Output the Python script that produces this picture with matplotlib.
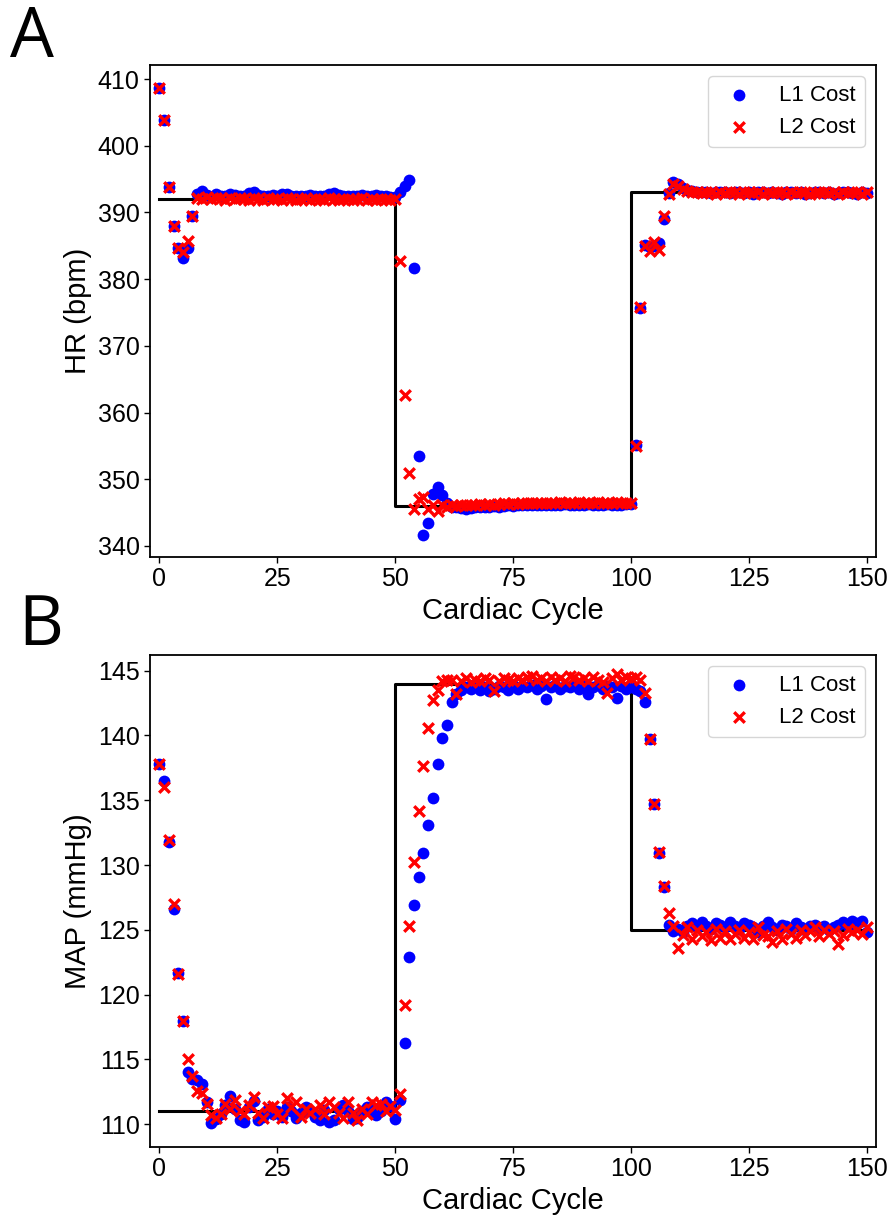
import matplotlib
matplotlib.use("Agg")
import matplotlib.pyplot as plt
import numpy as np

plt.rcParams['font.family'] = ['Liberation Sans', 'DejaVu Sans']

cycles = list(range(151))

hr_l1 = [408.7, 403.8, 393.8, 388.0, 384.7, 383.2, 384.6, 389.4, 392.8, 393.2,
         392.6, 392.3, 392.7, 392.5, 392.4, 392.8, 392.6, 392.4, 392.5, 392.9,
         393.0, 392.6, 392.4, 392.5, 392.6, 392.5, 392.8, 392.7, 392.5, 392.4,
         392.5, 392.4, 392.6, 392.5, 392.4, 392.5, 392.7, 392.9, 392.6, 392.4,
         392.5, 392.4, 392.5, 392.6, 392.5, 392.4, 392.6, 392.5, 392.4, 392.3,
         392.3, 393.0, 393.9, 394.8, 381.6, 353.5, 341.7, 343.5, 347.8, 348.9,
         347.6, 346.4, 345.9, 345.8, 345.7, 345.6, 345.7, 345.8, 345.8, 345.9,
         345.9, 346.0, 345.9, 346.0, 346.1, 346.0, 346.1, 346.1, 346.2, 346.1,
         346.2, 346.1, 346.2, 346.2, 346.1, 346.2, 346.3, 346.2, 346.1, 346.2,
         346.2, 346.3, 346.2, 346.1, 346.2, 346.3, 346.2, 346.1, 346.2, 346.3,
         346.3, 355.2, 375.7, 385.1, 384.8, 385.0, 385.4, 389.0, 392.9, 394.6,
         394.2, 393.7, 393.4, 393.2, 393.1, 393.0, 393.1, 392.9, 393.0, 393.1,
         393.0, 392.9, 393.0, 393.1, 392.9, 393.0, 392.8, 393.0, 393.1, 392.9,
         393.0, 392.9, 392.8, 393.0, 393.1, 392.9, 393.0, 392.8, 392.9, 393.0,
         393.1, 392.9, 393.0, 392.8, 392.9, 393.0, 393.1, 392.9, 392.8, 393.0,
         392.9]

hr_l2 = [408.7, 403.8, 393.8, 388.0, 384.7, 384.0, 385.7, 389.4, 392.2, 392.0,
         392.3, 392.0, 392.2, 392.1, 391.9, 392.1, 392.0, 392.2, 392.0, 391.9,
         392.1, 392.0, 391.9, 392.1, 392.0, 392.0, 391.9, 392.1, 392.0, 391.9,
         392.0, 392.1, 391.9, 392.0, 392.0, 391.9, 392.1, 392.0, 391.9, 392.0,
         392.0, 391.9, 392.0, 392.1, 391.9, 392.0, 391.9, 392.0, 392.0, 391.9,
         392.0, 382.7, 362.7, 351.0, 345.6, 347.0, 347.4, 345.6, 346.2, 345.2,
         346.1, 345.9, 346.1, 346.0, 346.2, 346.1, 346.2, 346.1, 346.3, 346.2,
         346.3, 346.2, 346.3, 346.4, 346.3, 346.4, 346.3, 346.4, 346.5, 346.4,
         346.4, 346.5, 346.4, 346.5, 346.4, 346.6, 346.5, 346.4, 346.5, 346.6,
         346.5, 346.4, 346.5, 346.6, 346.5, 346.4, 346.5, 346.6, 346.5, 346.4,
         346.4, 355.0, 375.8, 385.0, 384.2, 385.6, 384.4, 389.5, 392.7, 394.3,
         394.0, 393.5, 393.2, 393.0, 393.1, 392.9, 393.0, 393.1, 392.8, 393.0,
         392.9, 393.1, 393.0, 392.8, 393.0, 393.1, 392.9, 393.0, 392.8, 393.1,
         392.9, 393.0, 393.1, 392.8, 393.0, 392.9, 393.1, 393.0, 392.8, 392.9,
         393.0, 393.1, 392.9, 393.0, 392.8, 393.1, 392.9, 393.0, 393.1, 392.8,
         393.0]

map_l1 = [137.8, 136.5, 131.8, 126.6, 121.7, 118.0, 114.0, 113.5, 113.4, 113.1,
          111.7, 110.1, 110.4, 110.8, 111.5, 112.2, 111.2, 110.3, 110.2, 111.3,
          111.8, 110.3, 110.6, 111.2, 110.8, 111.0, 110.6, 111.3, 111.0, 110.5,
          110.9, 111.3, 111.0, 110.6, 110.3, 111.1, 110.2, 110.3, 111.2, 111.5,
          111.0, 110.4, 110.5, 111.0, 111.3, 111.1, 110.7, 111.0, 111.7, 111.4,
          110.4, 111.9, 116.3, 122.9, 126.9, 129.1, 130.9, 133.1, 135.2, 137.8,
          139.8, 140.8, 142.6, 143.2, 143.5, 143.7, 143.6, 143.8, 143.5, 143.7,
          143.4, 143.6, 143.8, 143.7, 143.5, 143.9, 143.6, 143.8, 143.7, 143.9,
          143.6, 143.8, 142.8, 143.7, 143.9, 143.6, 143.8, 143.7, 143.9, 143.6,
          143.8, 143.2, 143.7, 143.9, 143.6, 143.8, 143.7, 142.9, 143.8, 143.6,
          143.7, 143.6, 143.4, 142.6, 139.7, 134.7, 130.9, 128.3, 125.4, 124.9,
          125.1, 124.8, 125.3, 125.5, 125.2, 125.6, 125.3, 125.1, 125.5, 125.4,
          125.2, 125.6, 125.3, 125.1, 125.5, 125.4, 125.2, 124.8, 125.3, 125.6,
          125.2, 125.0, 125.4, 125.3, 125.1, 125.5, 125.2, 125.0, 125.3, 125.4,
          125.1, 125.3, 125.0, 125.2, 125.4, 125.6, 125.3, 125.7, 125.5, 125.7,
          124.8]

map_l2 = [137.8, 136.0, 131.9, 127.0, 121.6, 118.0, 115.0, 113.7, 112.6, 112.4,
          111.6, 110.7, 110.5, 110.8, 111.6, 111.2, 111.9, 111.0, 110.8, 111.5,
          112.1, 110.9, 110.5, 111.3, 111.4, 110.8, 110.5, 112.0, 111.3, 111.7,
          110.6, 111.2, 110.9, 111.2, 111.5, 110.8, 111.7, 111.3, 110.9, 110.5,
          111.7, 110.9, 110.3, 111.2, 110.8, 111.7, 111.5, 111.6, 111.0, 111.4,
          111.1, 112.3, 119.2, 125.3, 130.2, 134.2, 137.6, 140.6, 142.7, 143.5,
          144.2, 144.3, 144.3, 143.2, 144.2, 144.4, 144.1, 144.3, 144.2, 144.4,
          144.3, 143.4, 144.2, 144.4, 144.3, 144.2, 144.4, 144.3, 144.5, 144.6,
          144.3, 144.4, 144.2, 144.5, 144.3, 144.4, 144.2, 144.6, 144.5, 144.3,
          144.4, 144.2, 144.5, 144.3, 144.1, 143.3, 144.4, 144.7, 144.3, 144.5,
          144.4, 144.5, 144.3, 143.3, 139.7, 134.7, 131.0, 128.4, 126.3, 125.3,
          123.6, 124.6, 125.2, 124.3, 125.0, 124.5, 124.8, 124.2, 125.1, 124.4,
          124.9, 124.3, 124.7, 125.0, 124.4, 124.8, 124.3, 125.2, 124.6, 124.5,
          124.1, 124.9, 124.3, 125.1, 124.7, 124.4, 125.0, 124.6, 124.9, 125.2,
          124.5, 125.0, 124.7, 124.9, 123.9, 124.6, 125.1, 124.8, 125.0, 124.7,
          125.2]

# setpoint (reference) steps
step_x = [0, 50, 100, 150]
hr_set = [392, 346, 393, 393]
map_set = [111, 144, 125, 125]

fig = plt.figure(figsize=(8.91, 12.19), dpi=100)
axA = fig.add_axes([150/891, 1 - 557/1219, 726/891, 492/1219])
axB = fig.add_axes([150/891, 1 - 1147/1219, 726/891, 492/1219])

panels = [
    (axA, hr_l1, hr_l2, hr_set, 'HR (bpm)', (338.35, 412.1), [340, 350, 360, 370, 380, 390, 400, 410]),
    (axB, map_l1, map_l2, map_set, 'MAP (mmHg)', (108.25, 146.2), [110, 115, 120, 125, 130, 135, 140, 145]),
]

for ax, l1, l2, sp, ylab, ylim, yt in panels:
    ax.step(step_x, sp, where='post', color='black', lw=2.2, zorder=2)
    ax.scatter(cycles, l1, s=72, color='blue', marker='o', label='L1 Cost', zorder=3, linewidths=0)
    ax.scatter(cycles, l2, s=58, color='red', marker='x', label='L2 Cost', zorder=4, linewidths=2.4)
    ax.set_xlim(-2, 152)
    ax.set_ylim(*ylim)
    ax.set_yticks(yt)
    ax.set_xticks([0, 25, 50, 75, 100, 125, 150])
    ax.tick_params(labelsize=18, length=4, width=1)
    ax.set_xlabel('Cardiac Cycle', fontsize=21)
    ax.set_ylabel(ylab, fontsize=21)
    for s in ax.spines.values():
        s.set_linewidth(1.3)
    ax.legend(loc='upper right', fontsize=16, scatterpoints=1)

fig.text(10/891, 1 - 4/1219, 'A', fontsize=50, family='Open Sans', va='top', ha='left')
fig.text(18/891, 1 - 592/1219, 'B', fontsize=50, family='Open Sans', va='top', ha='left')

fig.savefig('out.png', dpi=100)
